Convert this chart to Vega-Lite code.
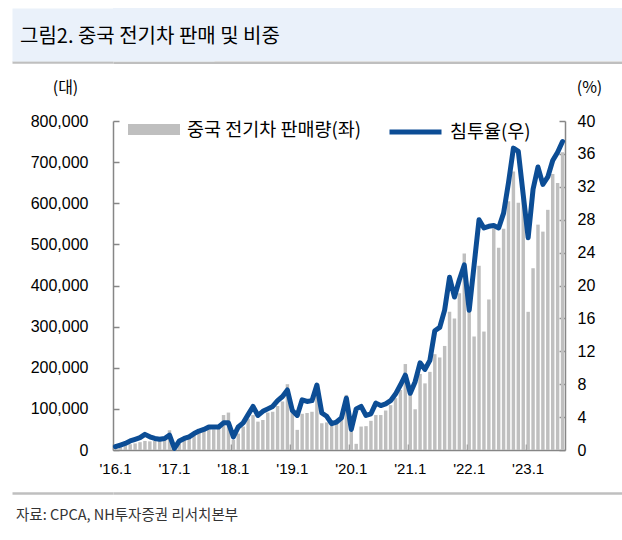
{
  "$schema": "https://vega.github.io/schema/vega-lite/v6.json",
  "padding": {"left": 10, "top": 8, "right": 0, "bottom": 0},
  "background": "white",
  "spacing": 15,
  "config": {
    "font": "Noto Sans CJK KR",
    "view": {"stroke": null},
    "axis": {"grid": false}
  },
  "resolve": {"legend": {"color": "independent", "stroke": "independent"}},
  "vconcat": [
    {
      "width": 511,
      "height": 53,
      "view": {"fill": "#EAF1FA", "stroke": null},
      "data": {"values": []},
      "mark": "point",
      "encoding": {
        "x": {"field": "a", "type": "quantitative", "scale": {"domain": [0, 1]},
          "axis": {"orient": "bottom", "domainColor": "#BFBFBF", "domainWidth": 2.5, "offset": 1.25, "ticks": false, "labels": false, "title": null}},
        "y": {"field": "b", "type": "quantitative", "scale": {"domain": [0, 1]},
          "axis": {"orient": "left", "domainColor": "#EAF1FA", "domainWidth": 202, "values": [0], "tickSize": 101, "tickColor": "#BFBFBF", "tickWidth": 2.5, "tickOffset": 1.25, "labels": false, "title": null}}
      },
      "title": {"text": "그림2. 중국 전기차 판매 및 비중", "anchor": "start", "frame": "group", "orient": "top", "offset": -49, "baseline": "middle", "dx": -93, "fontSize": 20, "font": "Noto Sans CJK KR", "fontWeight": "normal", "color": "#000000"}
    },
    {
      "width": 452,
      "height": 329,
      "view": {"stroke": null},
      "data": {"values": [
        {"m": "2016-01", "sales": 6000, "rate": 0.4},
        {"m": "2016-02", "sales": 8000, "rate": 0.6},
        {"m": "2016-03", "sales": 11000, "rate": 0.8},
        {"m": "2016-04", "sales": 14000, "rate": 1.1},
        {"m": "2016-05", "sales": 16000, "rate": 1.3},
        {"m": "2016-06", "sales": 19000, "rate": 1.5},
        {"m": "2016-07", "sales": 22000, "rate": 1.9},
        {"m": "2016-08", "sales": 21000, "rate": 1.6},
        {"m": "2016-09", "sales": 22000, "rate": 1.4},
        {"m": "2016-10", "sales": 24000, "rate": 1.3},
        {"m": "2016-11", "sales": 27000, "rate": 1.4},
        {"m": "2016-12", "sales": 48000, "rate": 1.8},
        {"m": "2017-01", "sales": 4000, "rate": 0.2},
        {"m": "2017-02", "sales": 16000, "rate": 1.1},
        {"m": "2017-03", "sales": 25000, "rate": 1.4},
        {"m": "2017-04", "sales": 32000, "rate": 1.6},
        {"m": "2017-05", "sales": 37000, "rate": 2.0},
        {"m": "2017-06", "sales": 44000, "rate": 2.3},
        {"m": "2017-07", "sales": 47000, "rate": 2.5},
        {"m": "2017-08", "sales": 52000, "rate": 2.8},
        {"m": "2017-09", "sales": 50000, "rate": 2.8},
        {"m": "2017-10", "sales": 57000, "rate": 2.8},
        {"m": "2017-11", "sales": 85000, "rate": 3.3},
        {"m": "2017-12", "sales": 91000, "rate": 3.3},
        {"m": "2018-01", "sales": 25000, "rate": 1.6},
        {"m": "2018-02", "sales": 40000, "rate": 2.8},
        {"m": "2018-03", "sales": 57000, "rate": 3.3},
        {"m": "2018-04", "sales": 76000, "rate": 4.3},
        {"m": "2018-05", "sales": 85000, "rate": 5.3},
        {"m": "2018-06", "sales": 69000, "rate": 4.2},
        {"m": "2018-07", "sales": 73000, "rate": 4.7},
        {"m": "2018-08", "sales": 91000, "rate": 5.0},
        {"m": "2018-09", "sales": 93000, "rate": 5.3},
        {"m": "2018-10", "sales": 107000, "rate": 6.0},
        {"m": "2018-11", "sales": 118000, "rate": 6.5},
        {"m": "2018-12", "sales": 160000, "rate": 7.3},
        {"m": "2019-01", "sales": 95000, "rate": 4.8},
        {"m": "2019-02", "sales": 49000, "rate": 4.2},
        {"m": "2019-03", "sales": 88000, "rate": 6.1},
        {"m": "2019-04", "sales": 90000, "rate": 5.9},
        {"m": "2019-05", "sales": 93000, "rate": 6.0},
        {"m": "2019-06", "sales": 155000, "rate": 7.9},
        {"m": "2019-07", "sales": 65000, "rate": 4.5},
        {"m": "2019-08", "sales": 67000, "rate": 4.1},
        {"m": "2019-09", "sales": 61000, "rate": 3.2},
        {"m": "2019-10", "sales": 65000, "rate": 3.4},
        {"m": "2019-11", "sales": 81000, "rate": 3.9},
        {"m": "2019-12", "sales": 134000, "rate": 6.3},
        {"m": "2020-01", "sales": 55000, "rate": 2.5},
        {"m": "2020-02", "sales": 15000, "rate": 5.0},
        {"m": "2020-03", "sales": 57000, "rate": 5.3},
        {"m": "2020-04", "sales": 58000, "rate": 4.2},
        {"m": "2020-05", "sales": 71000, "rate": 4.4},
        {"m": "2020-06", "sales": 85000, "rate": 5.7},
        {"m": "2020-07", "sales": 85000, "rate": 5.4},
        {"m": "2020-08", "sales": 96000, "rate": 5.6},
        {"m": "2020-09", "sales": 109000, "rate": 6.0},
        {"m": "2020-10", "sales": 126000, "rate": 6.8},
        {"m": "2020-11", "sales": 146000, "rate": 7.9},
        {"m": "2020-12", "sales": 209000, "rate": 9.1},
        {"m": "2021-01", "sales": 150000, "rate": 6.9},
        {"m": "2021-02", "sales": 99000, "rate": 8.3},
        {"m": "2021-03", "sales": 185000, "rate": 10.6},
        {"m": "2021-04", "sales": 162000, "rate": 9.8},
        {"m": "2021-05", "sales": 190000, "rate": 10.9},
        {"m": "2021-06", "sales": 233000, "rate": 14.5},
        {"m": "2021-07", "sales": 225000, "rate": 14.9},
        {"m": "2021-08", "sales": 253000, "rate": 17.0},
        {"m": "2021-09", "sales": 336000, "rate": 21.0},
        {"m": "2021-10", "sales": 320000, "rate": 18.6},
        {"m": "2021-11", "sales": 381000, "rate": 20.7},
        {"m": "2021-12", "sales": 478000, "rate": 22.5},
        {"m": "2022-01", "sales": 392000, "rate": 17.0},
        {"m": "2022-02", "sales": 276000, "rate": 22.5},
        {"m": "2022-03", "sales": 448000, "rate": 28.0},
        {"m": "2022-04", "sales": 288000, "rate": 27.0},
        {"m": "2022-05", "sales": 366000, "rate": 27.2},
        {"m": "2022-06", "sales": 539000, "rate": 27.3},
        {"m": "2022-07", "sales": 492000, "rate": 27.0},
        {"m": "2022-08", "sales": 538000, "rate": 28.8},
        {"m": "2022-09", "sales": 605000, "rate": 32.5},
        {"m": "2022-10", "sales": 677000, "rate": 36.7},
        {"m": "2022-11", "sales": 601000, "rate": 36.3},
        {"m": "2022-12", "sales": 625000, "rate": 31.0},
        {"m": "2023-01", "sales": 336000, "rate": 25.8},
        {"m": "2023-02", "sales": 442000, "rate": 31.7},
        {"m": "2023-03", "sales": 548000, "rate": 34.4},
        {"m": "2023-04", "sales": 531000, "rate": 32.3},
        {"m": "2023-05", "sales": 584000, "rate": 33.2},
        {"m": "2023-06", "sales": 671000, "rate": 35.2},
        {"m": "2023-07", "sales": 649000, "rate": 36.2},
        {"m": "2023-08", "sales": 724000, "rate": 37.5}
      ]},
      "layer": [
        {
          "mark": {"type": "bar"},
          "encoding": {
            "x": {"field": "m", "type": "ordinal", "sort": "ascending",
              "scale": {"paddingInner": 0.3, "paddingOuter": 0.15},
              "axis": {"orient": "bottom", "values": ["2016-01", "2017-01", "2018-01", "2019-01", "2020-01", "2021-01", "2022-01", "2023-01"],
                "bandPosition": 0, "labelExpr": "\"'\" + substring(datum.value, 2, 4) + \".1\"", "labelAngle": 0,
                "tickSize": -6, "tickColor": "#868686", "domainColor": "#868686", "domainWidth": 1.5, "tickWidth": 1.5,
                "labelFont": "Liberation Sans", "labelFontSize": 15, "labelColor": "#000000", "labelPadding": 17, "title": null}},
            "y": {"field": "sales", "type": "quantitative",
              "scale": {"domain": [0, 800000], "nice": false},
              "axis": {"orient": "left", "values": [0, 100000, 200000, 300000, 400000, 500000, 600000, 700000, 800000], "format": ",d",
                "tickSize": -6, "tickColor": "#868686", "domainColor": "#868686", "domainWidth": 1.5, "tickWidth": 1.5,
                "labelFont": "Liberation Sans", "labelFontSize": 16, "labelColor": "#000000", "labelPadding": 31,
                "title": "(대)", "titleAngle": 0, "titleX": -48, "titleY": -34, "titleAlign": "center", "titleBaseline": "middle",
                "titleFont": "Noto Sans CJK KR", "titleFontSize": 16, "titleFontWeight": "normal", "titleColor": "#000000"}},
            "color": {"datum": "중국 전기차 판매량(좌)", "scale": {"range": ["#BFBFBF"]},
              "legend": {"orient": "none", "legendX": 15, "legendY": -17.5, "title": null, "padding": 0,
                "symbolType": "M-1,-0.21H1V0.21H-1Z", "symbolSize": 2704, "symbolStrokeWidth": 0,
                "labelFont": "Noto Sans CJK KR", "labelFontSize": 18.5, "labelColor": "#000000", "labelOffset": 7, "labelLimit": 400}}
          }
        },
        {
          "mark": {"type": "line", "strokeWidth": 5, "strokeJoin": "round", "strokeCap": "round"},
          "encoding": {
            "x": {"field": "m", "type": "ordinal", "sort": "ascending"},
            "y": {"field": "rate", "type": "quantitative",
              "scale": {"domain": [0, 40], "nice": false},
              "axis": {"orient": "right", "values": [0, 4, 8, 12, 16, 20, 24, 28, 32, 36, 40], "format": "d",
                "tickSize": -6, "tickColor": "#868686", "domainColor": "#868686", "domainWidth": 1.5, "tickWidth": 1.5,
                "labelFont": "Liberation Sans", "labelFontSize": 16, "labelColor": "#000000", "labelPadding": 18,
                "title": "(%)", "titleAngle": 0, "titleX": 24, "titleY": -34, "titleAlign": "center", "titleBaseline": "middle",
                "titleFont": "Noto Sans CJK KR", "titleFontSize": 16, "titleFontWeight": "normal", "titleColor": "#000000"}},
            "stroke": {"datum": "침투율(우)", "scale": {"range": ["#0C4D95"]},
              "legend": {"orient": "none", "legendX": 274, "legendY": -17.5, "title": null, "padding": 0,
                "symbolType": "stroke", "symbolSize": 2704, "symbolStrokeWidth": 5,
                "labelFont": "Noto Sans CJK KR", "labelFontSize": 18.5, "labelColor": "#000000", "labelOffset": 6, "labelLimit": 400}}
          }
        }
      ],
      "resolve": {"scale": {"y": "independent"}}
    },
    {
      "width": 511,
      "height": 1,
      "view": {"stroke": null},
      "data": {"values": []},
      "mark": "point",
      "encoding": {
        "x": {"field": "a", "type": "quantitative", "scale": {"domain": [0, 1]},
          "axis": {"orient": "top", "domainColor": "#BFBFBF", "domainWidth": 2.5, "ticks": false, "labels": false, "title": null}},
        "y": {"field": "b", "type": "quantitative", "scale": {"domain": [0, 1]},
          "axis": {"orient": "left", "domain": false, "values": [1], "tickSize": 101, "tickColor": "#BFBFBF", "tickWidth": 2.5, "labels": false, "title": null}}
      },
      "title": {"text": "자료: CPCA, NH투자증권 리서치본부", "orient": "bottom", "anchor": "start", "frame": "group", "dx": -97, "offset": 15, "baseline": "top", "fontSize": 14.5, "font": "Noto Sans CJK KR", "fontWeight": "normal", "color": "#333333"}
    }
  ]
}
